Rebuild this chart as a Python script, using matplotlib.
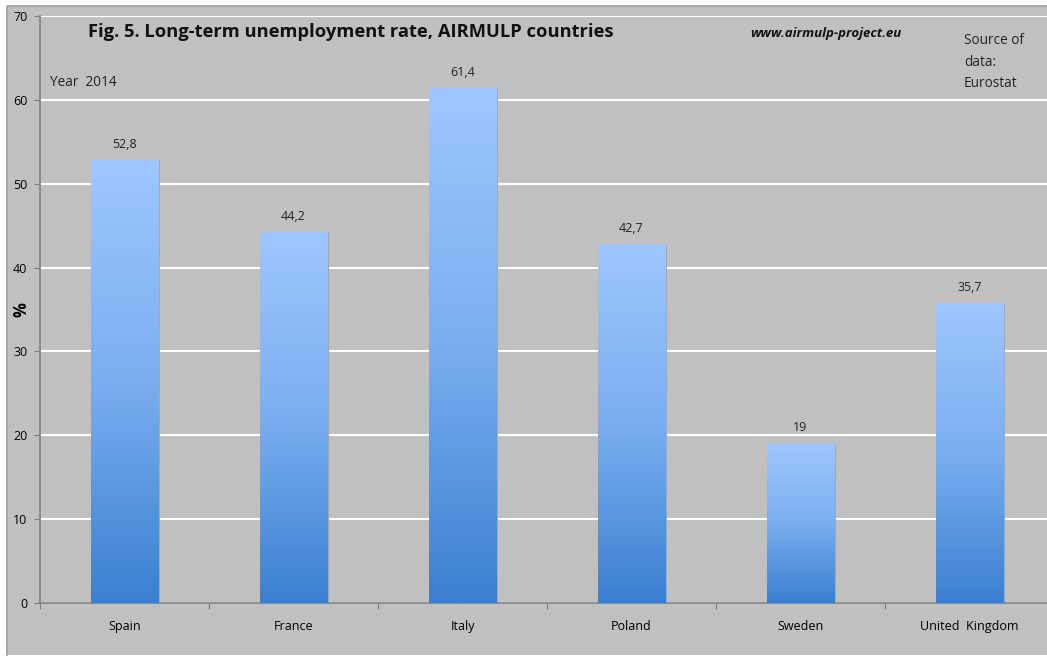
import matplotlib.pyplot as plt
import numpy as np
from matplotlib.colors import LinearSegmentedColormap
from matplotlib.lines import Line2D
from matplotlib.patches import Rectangle

countries = ["Spain", "France", "Italy", "Poland", "Sweden", "United  Kingdom"]
rates = [52.8, 44.2, 61.4, 42.7, 19, 35.7]
rate_labels = ["52,8", "44,2", "61,4", "42,7", "19", "35,7"]
yticks = [0, 10, 20, 30, 40, 50, 60, 70]

plt.rcParams["font.family"] = ["Open Sans", "DejaVu Sans"]

bg = "#c0c0c0"
grad = LinearSegmentedColormap.from_list("bar", ["#3a80d0", "#7aaef0", "#9fc6ff"])

fig = plt.figure(figsize=(10.47, 6.57), dpi=100, facecolor="white")
# grey panel behind the chart, outlined on the top and left only
px, py = 7 / 1047, 1 - 6 / 657
fig.patches.append(Rectangle((px, 2 / 657), 1 - px, py - 2 / 657,
                             transform=fig.transFigure, facecolor=bg,
                             edgecolor="none", zorder=-10))
fig.lines.append(Line2D([px, px, 1], [2 / 657, py, py], transform=fig.transFigure,
                        color="#a0a0a0", lw=1.2, zorder=-9))

# plot area runs a little past the right edge of the figure
ax = fig.add_axes([40 / 1047, 54 / 657, 6 * 169 / 1047, (603 - 16) / 657])
ax.set_facecolor(bg)

x = np.arange(len(countries)) + 0.5
width = 0.4
g = np.linspace(0, 1, 256).reshape(-1, 1)
for xi, v, lab in zip(x, rates, rate_labels):
    # soft shadow to the right of each bar
    ax.add_patch(Rectangle((xi - width / 2 + 0.012, 0), width, v,
                           facecolor="#a8a8a8", edgecolor="none", zorder=2))
    ax.imshow(g, cmap=grad, aspect="auto", origin="lower",
              extent=(xi - width / 2, xi + width / 2, 0, v), zorder=3)
    ax.text(xi, v + 1.9, lab, ha="center", va="center", fontsize=9, color="#222222")
ax.set_xlim(0, len(countries))
ax.set_ylim(0, 70)

ax.set_yticks(yticks)
ax.set_yticklabels([str(t) for t in yticks], fontsize=9)
ax.yaxis.grid(True, color="white", lw=1.5, zorder=1)
ax.set_axisbelow(True)
ax.set_xticks(np.arange(len(countries) + 1))
ax.set_xticklabels([])
ax.set_xticks(x, minor=True)
ax.set_xticklabels(countries, minor=True, fontsize=9)
ax.tick_params(axis="x", which="minor", length=0, pad=12)
ax.tick_params(axis="x", which="major", length=4, color="#808080")
ax.tick_params(axis="y", length=4, color="#808080", pad=5)

for side in ["top", "right"]:
    ax.spines[side].set_visible(False)
for side in ["left", "bottom"]:
    ax.spines[side].set_color("#808080")
    ax.spines[side].set_linewidth(1.2)

ax.set_ylabel("%", fontsize=12, fontweight="bold")
ax.yaxis.set_label_coords(-0.009, 0.5)

fig.text(88 / 1047, 1 - 32 / 657, "Fig. 5. Long-term unemployment rate, AIRMULP countries",
         fontsize=13.2, fontweight="bold", va="center", ha="left", color="#111111")
fig.text(50 / 1047, 1 - 82 / 657, "Year  2014", fontsize=9.8, va="center", color="#222222")
fig.text(750 / 1047, 1 - 33 / 657, "www.airmulp-project.eu", fontsize=9.5,
         fontweight="bold", style="italic", va="center", color="#111111")
fig.text(964 / 1047, 1 - 62 / 657, "Source of\ndata:\nEurostat", fontsize=9.8,
         va="center", ha="left", linespacing=1.6, color="#222222")

fig.savefig("out.png", dpi=100, facecolor=fig.get_facecolor())
